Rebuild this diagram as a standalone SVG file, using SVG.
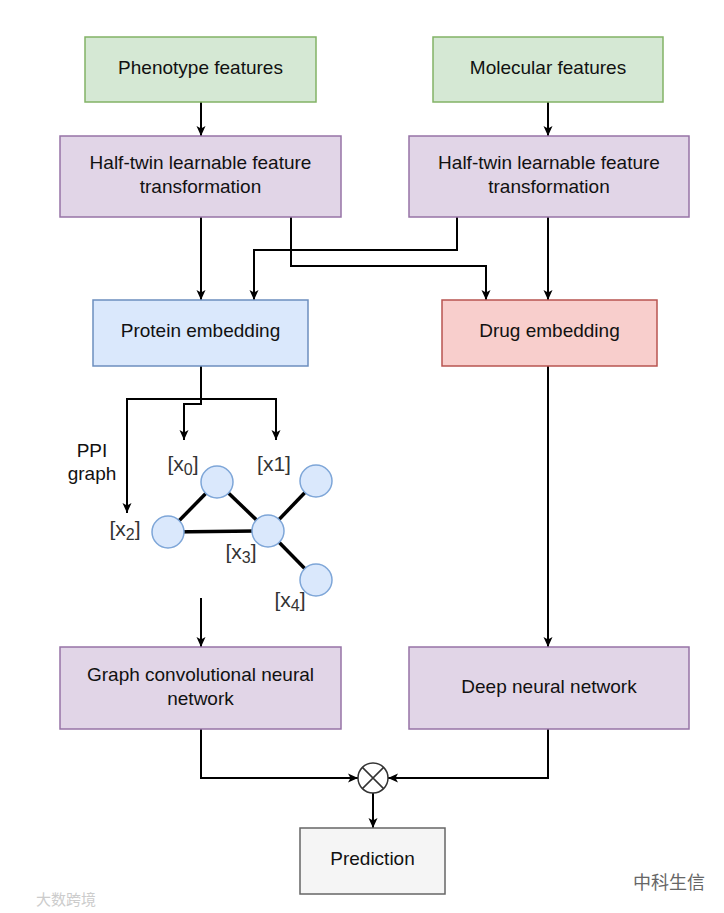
<svg xmlns="http://www.w3.org/2000/svg" width="724" height="913" viewBox="0 0 724 913">
<style>
.lbl{font-family:"Liberation Sans",Arial,sans-serif;font-size:19px;fill:#111;text-anchor:middle}
.gl{font-family:"Liberation Sans",Arial,sans-serif;font-size:21px;fill:#333;text-anchor:middle}
.green{fill:#d5e8d4;stroke:#82b366;stroke-width:1.5}
.purple{fill:#e1d5e7;stroke:#9673a6;stroke-width:1.5}
.blue{fill:#dae8fc;stroke:#6c8ebf;stroke-width:1.5}
.red{fill:#f8cecc;stroke:#b85450;stroke-width:1.5}
.gray{fill:#f5f5f5;stroke:#666666;stroke-width:1.5}
.conn{fill:none;stroke:#000;stroke-width:2;marker-end:url(#arr)}
.edge{stroke:#000;stroke-width:3.5}
.node{fill:#dae8fc;stroke:#7ea6d8;stroke-width:1.5}
</style>
<defs>
<marker id="arr" viewBox="0 0 10 10" refX="10" refY="5" markerWidth="10" markerHeight="10" orient="auto" markerUnits="userSpaceOnUse">
<path d="M0,0.5 L10,5 L0,9.5 L2.5,5 Z" fill="#000"/>
</marker>
</defs>
<rect width="724" height="913" fill="#ffffff"/>

<g id="connectors">
<path class="conn" d="M201,102 V136"/>
<path class="conn" d="M548,102 V136"/>
<path class="conn" d="M201,217 V300"/>
<path class="conn" d="M291,217 V266 H486 V300"/>
<path class="conn" d="M457,217 V250 H254 V300"/>
<path class="conn" d="M548,217 V300"/>
<path class="conn" d="M201,366 V399 H127 V513"/>
<path class="conn" d="M201,366 V399 H276 V440"/>
<path class="conn" d="M201,366 V404 H184 V440"/>
<path class="conn" d="M201,598 V647"/>
<path class="conn" d="M548,366 V647"/>
<path class="conn" d="M201,729 V778 H358"/>
<path class="conn" d="M548,729 V778 H388"/>
<path class="conn" d="M373,793 V828"/>
</g>

<g id="phenotype">
<rect class="green" x="85" y="37" width="231" height="65"/>
<text class="lbl" x="200.5" y="74">Phenotype features</text>
</g>
<g id="molecular">
<rect class="green" x="433" y="37" width="230" height="65"/>
<text class="lbl" x="548" y="74">Molecular features</text>
</g>
<g id="halftwin-left">
<rect class="purple" x="60" y="136" width="281" height="81"/>
<text class="lbl" x="200.5" y="169">Half-twin learnable feature</text>
<text class="lbl" x="200.5" y="193">transformation</text>
</g>
<g id="halftwin-right">
<rect class="purple" x="409" y="136" width="280" height="81"/>
<text class="lbl" x="549" y="169">Half-twin learnable feature</text>
<text class="lbl" x="549" y="193">transformation</text>
</g>
<g id="protein">
<rect class="blue" x="93" y="300" width="215" height="66"/>
<text class="lbl" x="200.5" y="337">Protein embedding</text>
</g>
<g id="drug">
<rect class="red" x="442" y="300" width="215" height="66"/>
<text class="lbl" x="549.5" y="337">Drug embedding</text>
</g>

<g id="ppi-graph">
<line class="edge" x1="217" y1="482" x2="168" y2="532"/>
<line class="edge" x1="217" y1="482" x2="268" y2="531"/>
<line class="edge" x1="168" y1="532" x2="268" y2="531"/>
<line class="edge" x1="268" y1="531" x2="316" y2="481"/>
<line class="edge" x1="268" y1="531" x2="316" y2="580"/>
<circle class="node" cx="217" cy="482" r="16"/>
<circle class="node" cx="316" cy="481" r="16"/>
<circle class="node" cx="168" cy="532" r="16"/>
<circle class="node" cx="268" cy="531" r="16"/>
<circle class="node" cx="316" cy="580" r="16"/>
<text class="lbl" x="92" y="457">PPI</text>
<text class="lbl" x="92" y="480">graph</text>
<text class="gl" x="183" y="471">[x<tspan font-size="16" dy="4">0</tspan><tspan dy="-4">]</tspan></text>
<text class="gl" x="274" y="471">[x1]</text>
<text class="gl" x="125" y="536">[x<tspan font-size="16" dy="4">2</tspan><tspan dy="-4">]</tspan></text>
<text class="gl" x="241" y="559">[x<tspan font-size="16" dy="4">3</tspan><tspan dy="-4">]</tspan></text>
<text class="gl" x="290" y="607">[x<tspan font-size="16" dy="4">4</tspan><tspan dy="-4">]</tspan></text>
</g>

<g id="gcn">
<rect class="purple" x="60" y="647" width="281" height="82"/>
<text class="lbl" x="200.5" y="681">Graph convolutional neural</text>
<text class="lbl" x="200.5" y="705">network</text>
</g>
<g id="dnn">
<rect class="purple" x="409" y="647" width="280" height="82"/>
<text class="lbl" x="549" y="693">Deep neural network</text>
</g>
<g id="product">
<circle cx="373" cy="778" r="15" fill="#ffffff" stroke="#333" stroke-width="1.5"/>
<path d="M362.4,767.4 L383.6,788.6 M383.6,767.4 L362.4,788.6" stroke="#333" stroke-width="1.5"/>
</g>
<g id="prediction">
<rect class="gray" x="300" y="828" width="145" height="66"/>
<text class="lbl" x="372.5" y="865">Prediction</text>
</g>

<g id="watermarks">
<text x="36" y="905" font-family="'Noto Sans CJK SC',sans-serif" font-size="15" fill="#cccccc">大数跨境</text>
<text x="633" y="889" font-family="'Noto Sans CJK SC',sans-serif" font-size="18" fill="#666666">中科生信</text>
</g>
</svg>
